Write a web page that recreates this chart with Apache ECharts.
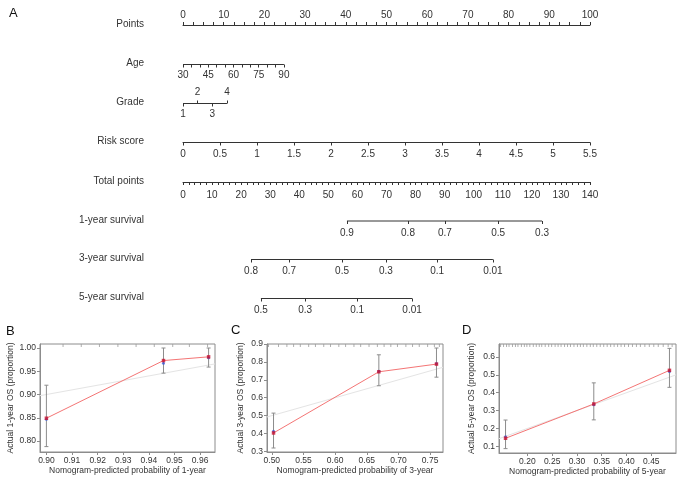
<!DOCTYPE html>
<html>
<head>
<meta charset="utf-8">
<script src="https://cdn.jsdelivr.net/npm/echarts@6/dist/echarts.min.js"></script>
<style>
html,body{margin:0;padding:0;background:#fff;}
#chart{width:681px;height:479px;}
</style>
</head>
<body>
<div id="chart"></div>
<script>
// ---------- Data ----------
const panelLetters = ['A', 'B', 'C', 'D'];
const rowNames = ['Points', 'Age', 'Grade', 'Risk score', 'Total points',
  '1-year survival', '3-year survival', '5-year survival'];

const pointsRange = [0, 100];
const ageTicks = [30, 35, 40, 45, 50, 55, 60, 65, 70, 75, 80, 85, 90];
const ageLabels = [30, 45, 60, 75, 90];
const ageMaxPoints = 24.8;            // points given to age 90
const gradeLower = [1, 3];            // labels below the line
const gradeUpper = [2, 4];            // labels above the line
const gradeMaxPoints = 10.8;          // points given to grade 4
const riskRange = [0, 5.5];
const totalPointsRange = [0, 140];

const surv1Labels = ['0.9', '0.8', '0.7', '0.5', '0.3'];
const surv1Points = [56.4, 77.4, 90.1, 108.4, 123.5];
const surv3Labels = ['0.8', '0.7', '0.5', '0.3', '0.1', '0.01'];
const surv3Points = [23.4, 36.5, 54.7, 69.8, 87.4, 106.6];
const surv5Labels = ['0.5', '0.3', '0.1', '0.01'];
const surv5Points = [26.8, 42.0, 59.9, 78.8];

// Calibration 1-year (B)
const cal1Pred = [0.900, 0.9457, 0.9633];
const cal1Obs = [0.849, 0.973, 0.981];
const cal1Corr = [0.847, 0.967, 0.979];
const cal1Lo = [0.788, 0.946, 0.959];
const cal1Hi = [0.920, 1.000, 1.000];
const cal1Rug = [0.9065, 0.9136, 0.9207, 0.9279, 0.9350, 0.9421, 0.9493, 0.9558, 0.9629];
const cal1XTicks = [0.90, 0.91, 0.92, 0.93, 0.94, 0.95, 0.96];
const cal1YTicks = [0.80, 0.85, 0.90, 0.95, 1.00];

// Calibration 3-year (C)
const cal3Pred = [0.5027, 0.669, 0.760];
const cal3Obs = [0.403, 0.745, 0.788];
const cal3Corr = [0.412, 0.748, 0.792];
const cal3Lo = [0.319, 0.667, 0.715];
const cal3Hi = [0.514, 0.840, 0.878];
const cal3Rug = [0.4948, 0.5106, 0.5238, 0.5344, 0.5450, 0.5582, 0.5689, 0.5820, 0.5927,
  0.6058, 0.6165, 0.6297, 0.6403, 0.6535, 0.6667, 0.6773, 0.6879, 0.6984, 0.7117,
  0.7222, 0.7328, 0.7460, 0.7567, 0.7646];
const cal3XTicks = [0.50, 0.55, 0.60, 0.65, 0.70, 0.75];
const cal3YTicks = [0.3, 0.4, 0.5, 0.6, 0.7, 0.8, 0.9];

// Calibration 5-year (D)
const cal5Pred = [0.156, 0.334, 0.4866];
const cal5Obs = [0.145, 0.337, 0.525];
const cal5Corr = [0.154, 0.332, 0.518];
const cal5Lo = [0.087, 0.248, 0.430];
const cal5Hi = [0.247, 0.455, 0.648];
const cal5Rug = [0.146, 0.152, 0.158, 0.163, 0.170, 0.176, 0.181, 0.188, 0.194, 0.199,
  0.205, 0.212, 0.218, 0.224, 0.229, 0.236, 0.243, 0.249, 0.256, 0.262, 0.268, 0.275,
  0.281, 0.287, 0.294, 0.301, 0.307, 0.313, 0.320, 0.327, 0.333, 0.340, 0.347, 0.354,
  0.361, 0.368, 0.375, 0.382, 0.389, 0.396, 0.404, 0.412, 0.420, 0.428, 0.437, 0.446,
  0.455, 0.464, 0.474, 0.484, 0.492];
const cal5XTicks = [0.20, 0.25, 0.30, 0.35, 0.40, 0.45, 0.50];
const cal5YTicks = [0.1, 0.2, 0.3, 0.4, 0.5, 0.6];

const calTitlesX = ['Nomogram-predicted probability of 1-year',
  'Nomogram-predicted probability of 3-year', 'Nomogram-predicted probability of 5-year'];
const calTitlesY = ['Actual 1-year OS (proportion)', 'Actual 3-year OS (proportion)',
  'Actual 5-year OS (proportion)'];

// ---------- Build ----------
const FF = '"Liberation Sans", Arial, Helvetica, sans-serif';
const TXT = '#333';
const NOM_LEFT = 183, NOM_RIGHT = 91;
const grids = [], xAxes = [], yAxes = [], series = [];

function addGrid(g, x, y) {
  grids.push(g);
  const i = grids.length - 1;
  xAxes.push(Object.assign({ gridIndex: i }, x));
  yAxes.push(Object.assign({ gridIndex: i, type: 'value', min: 0, max: 1, show: false }, y || {}));
  return i;
}

function nomAxis(o) {
  return {
    type: 'value', position: o.position || 'bottom', min: o.min, max: o.max,
    interval: o.interval,
    splitLine: { show: false },
    axisLine: { show: !!o.line, onZero: false, lineStyle: { color: TXT, width: 1 } },
    axisTick: Object.assign({ show: true, length: 3, lineStyle: { color: TXT, width: 1 } },
      o.ticks ? { customValues: o.ticks } : {}),
    minorTick: o.minor ? { show: true, splitNumber: o.minor, length: 3, lineStyle: { color: TXT, width: 1 } } : { show: false },
    axisLabel: Object.assign({
      show: o.showLabels !== false, color: TXT, fontSize: 10, fontFamily: FF,
      margin: o.margin == null ? 7 : o.margin, hideOverlap: false,
      showMinLabel: true, showMaxLabel: true,
      formatter: o.formatter || (v => String(v))
    }, o.labels ? { customValues: o.labels } : {})
  };
}

function rowLine(gi, from, to) {
  series.push({
    type: 'line', xAxisIndex: gi, yAxisIndex: gi, data: [[from, 0], [to, 0]],
    symbol: 'none', clip: false, silent: true, animation: false,
    lineStyle: { color: TXT, width: 1 }
  });
}

const rowH = 10;
function gridBelow(lineY) { return { left: NOM_LEFT, right: NOM_RIGHT, top: lineY - rowH, height: rowH }; }
function gridAbove(lineY) { return { left: NOM_LEFT, right: NOM_RIGHT, top: lineY, height: rowH }; }

const rowY = [25, 64.5, 103.5, 142.5, 182, 221, 259.5, 298.5];

// Points
addGrid(gridAbove(rowY[0]), nomAxis({ position: 'top', min: pointsRange[0], max: pointsRange[1],
  interval: 10, minor: 4, line: true, margin: 5 }));
// Age
let gi = addGrid(gridBelow(rowY[1]), nomAxis({ min: ageTicks[0],
  max: ageTicks[0] + (ageTicks[ageTicks.length - 1] - ageTicks[0]) * pointsRange[1] / ageMaxPoints,
  ticks: ageTicks, labels: ageLabels, margin: 6 }));
rowLine(gi, ageTicks[0], ageTicks[ageTicks.length - 1]);
// Grade
const gMin = gradeLower[0], gMax = gradeUpper[gradeUpper.length - 1];
const gAxisMax = gMin + (gMax - gMin) * pointsRange[1] / gradeMaxPoints;
gi = addGrid(gridBelow(rowY[2]), nomAxis({ min: gMin, max: gAxisMax, ticks: gradeLower, labels: gradeLower, margin: 6 }));
rowLine(gi, gMin, gMax);
addGrid(gridAbove(rowY[2]), nomAxis({ position: 'top', min: gMin, max: gAxisMax, ticks: gradeUpper, labels: gradeUpper, margin: 6 }));
// Risk score
addGrid(gridBelow(rowY[3]), nomAxis({ min: riskRange[0], max: riskRange[1], interval: 0.5, line: true, margin: 7 }));
// Total points
addGrid(gridBelow(rowY[4]), nomAxis({ min: totalPointsRange[0], max: totalPointsRange[1], interval: 10, minor: 5, line: true, margin: 8 }));
// Survival rows
function survRow(lineY, pts, labs) {
  const fmt = v => {
    let best = 0, bd = Infinity;
    pts.forEach((p, i) => { const d = Math.abs(p - v); if (d < bd) { bd = d; best = i; } });
    return labs[best];
  };
  const i = addGrid(gridBelow(lineY), nomAxis({ min: totalPointsRange[0], max: totalPointsRange[1],
    ticks: pts, labels: pts, formatter: fmt, margin: 7 }));
  rowLine(i, pts[0], pts[pts.length - 1]);
}
survRow(rowY[5], surv1Points, surv1Labels);
survRow(rowY[6], surv3Points, surv3Labels);
survRow(rowY[7], surv5Points, surv5Labels);

// ---------- Calibration panels ----------
const calGridStyle = { show: true, borderColor: '#8c8c8c', borderWidth: 1, backgroundColor: 'transparent' };
function calPanel(box, xr, yr, xt, yt, xdec, ydec, pred, obs, corr, lo, hi, rug, tx, ty, ygap) {
  const g = Object.assign({}, calGridStyle, box);
  const axisCommon = (name, ticks, dec, gap) => ({
    type: 'value', splitLine: { show: false },
    axisLine: { show: true, onZero: false, lineStyle: { color: '#8c8c8c' } },
    axisTick: { show: true, length: 3, customValues: ticks, lineStyle: { color: '#8c8c8c' } },
    axisLabel: { customValues: ticks, formatter: v => v.toFixed(dec), fontSize: 8.5, fontFamily: FF,
      color: TXT, margin: 4, hideOverlap: false, showMinLabel: true, showMaxLabel: true },
    name: name, nameLocation: 'middle', nameGap: gap,
    nameTextStyle: { fontSize: 8.5, fontFamily: FF, color: TXT }
  });
  const x = Object.assign(axisCommon(tx, xt, xdec, 14.5), { min: xr[0], max: xr[1] });
  const y = Object.assign(axisCommon(ty, yt, ydec, ygap), { min: yr[0], max: yr[1], show: true });
  const i = addGrid(g, x, y);
  const idx = { xAxisIndex: i, yAxisIndex: i, animation: false, silent: true };
  // ideal line
  series.push(Object.assign({ type: 'line', data: [[xr[0], xr[0]], [xr[1], xr[1]]], symbol: 'none',
    lineStyle: { color: '#e4e4e4', width: 1 }, z: 1 }, idx));
  // rug at top
  series.push(Object.assign({ type: 'custom', data: rug.map(v => [v, yr[1]]),
    renderItem: (p, api) => {
      const c = api.coord([api.value(0), api.value(1)]);
      return { type: 'line', shape: { x1: c[0], y1: c[1], x2: c[0], y2: c[1] + 3 },
        style: { stroke: '#9a9a9a', lineWidth: 0.8 } };
    }, z: 2 }, idx));
  // error bars
  series.push(Object.assign({ type: 'custom', data: pred.map((v, k) => [v, lo[k], hi[k]]),
    renderItem: (p, api) => {
      const a = api.coord([api.value(0), api.value(1)]);
      const b = api.coord([api.value(0), api.value(2)]);
      const st = { stroke: '#8c8c8c', lineWidth: 1 };
      return { type: 'group', children: [
        { type: 'line', shape: { x1: a[0], y1: a[1], x2: b[0], y2: b[1] }, style: st },
        { type: 'line', shape: { x1: a[0] - 2, y1: a[1], x2: a[0] + 2, y2: a[1] }, style: st },
        { type: 'line', shape: { x1: b[0] - 2, y1: b[1], x2: b[0] + 2, y2: b[1] }, style: st }
      ] };
    }, z: 3 }, idx));
  // observed line
  series.push(Object.assign({ type: 'line', data: pred.map((v, k) => [v, obs[k]]), symbol: 'none',
    lineStyle: { color: '#f47575', width: 1 }, z: 4 }, idx));
  // corrected (blue)
  series.push(Object.assign({ type: 'scatter', data: pred.map((v, k) => [v, corr[k]]), symbol: 'circle',
    symbolSize: 3, itemStyle: { color: '#3b5bdb' }, z: 5 }, idx));
  // observed markers (red)
  series.push(Object.assign({ type: 'scatter', data: pred.map((v, k) => [v, obs[k]]), symbol: 'rect',
    symbolSize: 3.5, itemStyle: { color: '#c8102e' }, z: 6 }, idx));
}

calPanel({ left: 40, top: 344, width: 175, height: 108 }, [0.8975, 0.9658], [0.7764, 1.0086],
  cal1XTicks, cal1YTicks, 2, 2, cal1Pred, cal1Obs, cal1Corr, cal1Lo, cal1Hi, cal1Rug,
  calTitlesX[0], calTitlesY[0], 24);
calPanel({ left: 267, top: 344, width: 176, height: 108 }, [0.4924, 0.7703], [0.2966, 0.9004],
  cal3XTicks, cal3YTicks, 2, 1, cal3Pred, cal3Obs, cal3Corr, cal3Lo, cal3Hi, cal3Rug,
  calTitlesX[1], calTitlesY[1], 22);
calPanel({ left: 499, top: 344, width: 177, height: 109 }, [0.1428, 0.4998], [0.0626, 0.6724],
  cal5XTicks, cal5YTicks, 2, 1, cal5Pred, cal5Obs, cal5Corr, cal5Lo, cal5Hi, cal5Rug,
  calTitlesX[2], calTitlesY[2], 23);

// ---------- Text ----------
const graphics = [];
rowNames.forEach((n, k) => {
  graphics.push({ type: 'text', x: 144, y: rowY[k] - 1,
    style: { text: n, fill: TXT, font: '10px ' + FF, textAlign: 'right', textVerticalAlign: 'middle' } });
});
const letterPos = [[9, 13], [6, 331], [231, 330], [462, 330]];
panelLetters.forEach((l, k) => {
  graphics.push({ type: 'text', x: letterPos[k][0], y: letterPos[k][1],
    style: { text: l, fill: '#111', font: '13px ' + FF, textAlign: 'left', textVerticalAlign: 'middle' } });
});

const chart = echarts.init(document.getElementById('chart'), null, { renderer: 'canvas' });
chart.setOption({
  animation: false,
  backgroundColor: '#fff',
  grid: grids,
  xAxis: xAxes,
  yAxis: yAxes,
  series: series,
  graphic: graphics
});
</script>
</body>
</html>
